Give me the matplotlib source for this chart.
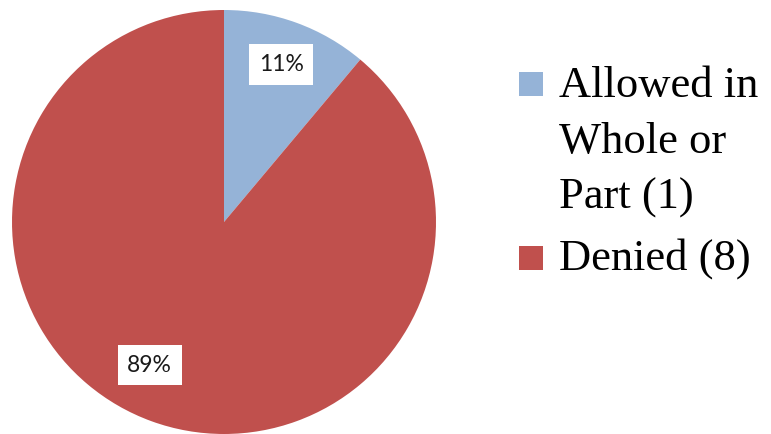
import matplotlib
matplotlib.use("Agg")
import matplotlib.pyplot as plt
from matplotlib.patches import Rectangle

categories = ["Allowed in Whole or Part (1)", "Denied (8)"]
legend_lines = [["Allowed in", "Whole or", "Part (1)"], ["Denied (8)"]]
values = [1, 8]
colors = ["#95B3D7", "#C0504D"]

W, H = 771, 434
fig = plt.figure(figsize=(W / 100, H / 100), dpi=100)

cx, cy, r = 224, 222, 212
ax = fig.add_axes([(cx - r) / W, (H - cy - r) / H, 2 * r / W, 2 * r / H])
wedges, texts, autotexts = ax.pie(
    values, colors=colors, startangle=90, counterclock=False,
    autopct=lambda p: f"{p:.0f}%", pctdistance=0.79, radius=1,
    wedgeprops=dict(linewidth=0),
    textprops=dict(fontsize=16.5, family=["Lato", "DejaVu Sans"], color="#1a1a1a"),
)
for t in autotexts:
    t.set_bbox(dict(facecolor="white", edgecolor="none", boxstyle="square,pad=0.42"))
# Excel places the large-slice label off its mid-angle
autotexts[1].set_position((-0.35, -0.675))
ax.set_xlim(-1, 1)
ax.set_ylim(-1, 1)
ax.set_axis_off()
for w in wedges:
    w.set_clip_on(False)

# legend (drawn manually)
sq = 24
square_tops = [72, 246]
line_baselines = [[97, 153, 209], [270]]
for color, top, lines, bases in zip(colors, square_tops, legend_lines, line_baselines):
    fig.patches.append(Rectangle((519 / W, (H - top - sq) / H), sq / W, sq / H,
                                 transform=fig.transFigure, facecolor=color,
                                 edgecolor="none"))
    for line, b in zip(lines, bases):
        fig.text(559 / W, (H - b) / H, line, fontsize=32,
                 family=["Liberation Serif", "DejaVu Serif"], va="baseline",
                 ha="left", color="black")

fig.savefig("out.png", dpi=100)
